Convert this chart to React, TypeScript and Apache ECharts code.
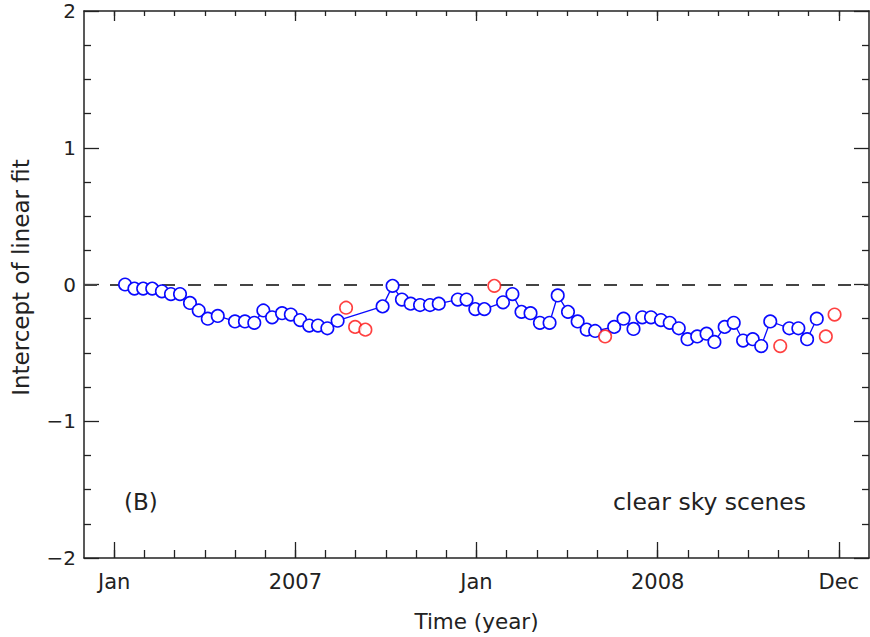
import React, { useEffect, useRef } from "react";
import * as echarts from "echarts";

// Time in months since Jan 2007 (0 = Jan, 12 = Jan next year, 24 = Dec)
const blueMonths = [0.36, 0.67, 0.96, 1.26, 1.58, 1.88, 2.18, 2.51, 2.80, 3.10, 3.43, 4.00, 4.33, 4.64, 4.94, 5.23, 5.56, 5.85, 6.16, 6.46, 6.75, 7.06, 7.40, 8.89, 9.22, 9.53, 9.82, 10.13, 10.46, 10.75, 11.38, 11.67, 11.96, 12.26, 12.88, 13.19, 13.49, 13.79, 14.10, 14.42, 14.69, 15.03, 15.35, 15.65, 15.93, 16.56, 16.87, 17.20, 17.49, 17.78, 18.11, 18.40, 18.70, 18.99, 19.31, 19.62, 19.88, 20.22, 20.52, 20.83, 21.15, 21.43, 21.73, 22.36, 22.66, 22.95, 23.27];
const blueValues = [0.00, -0.03, -0.03, -0.03, -0.05, -0.07, -0.07, -0.135, -0.19, -0.25, -0.23, -0.27, -0.27, -0.28, -0.19, -0.24, -0.21, -0.22, -0.26, -0.30, -0.30, -0.32, -0.265, -0.16, -0.01, -0.11, -0.14, -0.15, -0.15, -0.14, -0.11, -0.11, -0.18, -0.18, -0.13, -0.07, -0.20, -0.21, -0.28, -0.28, -0.08, -0.20, -0.27, -0.33, -0.34, -0.31, -0.25, -0.325, -0.24, -0.24, -0.26, -0.28, -0.32, -0.40, -0.38, -0.36, -0.42, -0.31, -0.28, -0.41, -0.40, -0.45, -0.27, -0.32, -0.32, -0.40, -0.25];

const redMonths = [7.68, 7.98, 8.32, 12.59, 16.26, 22.06, 23.57, 23.86];
const redValues = [-0.17, -0.31, -0.33, -0.01, -0.38, -0.45, -0.38, -0.22];

const xMin = -1;
const xMax = 25;
const xMajorValues = [0, 6, 12, 18, 24];
const xTickLabels = ["Jan", "2007", "Jan", "2008", "Dec"];
const xMinorValues = Array.from({ length: 25 }, (_, i) => i);

const yValues = [-2, -1, 0, 1, 2];
const yTickLabels = ["\u22122", "\u22121", "0", "1", "2"];

const FONT = "DejaVu Sans";
const TXT = "#222";
const AX = "#222";

export default function App() {
  const ref = useRef<HTMLDivElement>(null);
  useEffect(() => {
    if (!ref.current) return;
    const chart = echarts.init(ref.current, null, { renderer: "svg" });
    const axLine = { show: true, onZero: false, lineStyle: { color: AX, width: 1.5 } };
    const noLine = { show: false, onZero: false };
    const tickStyle = { color: AX, width: 1.3 };
    const baseX = { type: "value", min: xMin, max: xMax, splitLine: { show: false }, gridIndex: 0 };
    const baseY = { type: "value", min: -2, max: 2, interval: 1, splitLine: { show: false } };
    chart.setOption({
      animation: false,
      backgroundColor: "#fff",
      grid: { left: 84, right: 1, top: 11, bottom: 79, containLabel: false },
      xAxis: [
        {
          ...baseX,
          position: "bottom",
          axisLine: axLine,
          axisTick: { show: true, inside: true, length: 8, customValues: xMinorValues, lineStyle: tickStyle },
          axisLabel: {
            show: true,
            customValues: xMajorValues,
            formatter: (v: number) => xTickLabels[xMajorValues.indexOf(v)] ?? "",
            margin: 13,
            fontFamily: FONT,
            fontSize: 21,
            color: TXT,
          },
          name: "Time (year)",
          nameLocation: "middle",
          nameGap: 52,
          nameTextStyle: { fontFamily: FONT, fontSize: 21.5, color: TXT },
        },
        {
          ...baseX,
          position: "bottom",
          axisLine: noLine,
          axisTick: { show: true, inside: true, length: 16, customValues: xMajorValues, lineStyle: tickStyle },
          axisLabel: { show: false },
        },
        {
          ...baseX,
          position: "top",
          axisLine: axLine,
          axisTick: { show: true, inside: true, length: 5, customValues: xMinorValues, lineStyle: tickStyle },
          axisLabel: { show: false },
        },
        {
          ...baseX,
          position: "top",
          axisLine: noLine,
          axisTick: { show: true, inside: true, length: 10, customValues: xMajorValues, lineStyle: tickStyle },
          axisLabel: { show: false },
        },
      ],
      yAxis: [
        {
          ...baseY,
          position: "left",
          axisLine: axLine,
          axisTick: { show: true, inside: true, length: 15, lineStyle: tickStyle },
          minorTick: { show: true, splitNumber: 4, length: 7, lineStyle: tickStyle },
          axisLabel: {
            show: true,
            formatter: (v: number) => yTickLabels[yValues.indexOf(v)] ?? "",
            margin: 8,
            fontFamily: FONT,
            fontSize: 20,
            color: TXT,
          },
          name: "Intercept of linear fit",
          nameLocation: "middle",
          nameGap: 52,
          nameRotate: 90,
          nameTextStyle: { fontFamily: FONT, fontSize: 23, color: TXT, padding: [0, 0, 0, 14] },
        },
        {
          ...baseY,
          position: "right",
          axisLine: axLine,
          axisTick: { show: true, inside: true, length: 15, lineStyle: tickStyle },
          minorTick: { show: true, splitNumber: 4, length: 7, lineStyle: tickStyle },
          axisLabel: { show: false },
        },
      ],
      series: [
        {
          type: "line",
          xAxisIndex: 0,
          yAxisIndex: 0,
          data: blueMonths.map((m, i) => [m, blueValues[i]]),
          symbol: "circle",
          symbolSize: 12.5,
          showAllSymbol: true,
          lineStyle: { color: "#0a0aff", width: 1.3 },
          itemStyle: { color: "#fff", borderColor: "#0a0aff", borderWidth: 1.6 },
          z: 3,
          markLine: {
            silent: true,
            symbol: ["none", "none"],
            label: { show: false },
            lineStyle: { type: [13, 13], color: "#444", width: 2 },
            data: [{ yAxis: 0 }],
            z: 1,
          },
        },
        {
          type: "scatter",
          xAxisIndex: 0,
          yAxisIndex: 0,
          data: redMonths.map((m, i) => [m, redValues[i]]),
          symbol: "circle",
          symbolSize: 12.5,
          itemStyle: { color: "#fff", borderColor: "#ff1010", borderWidth: 1.6 },
          z: 4,
        },
      ],
      graphic: [
        {
          type: "text",
          left: 124,
          top: 490,
          style: { text: "(B)", font: `23px '${FONT}'`, fill: TXT },
        },
        {
          type: "text",
          right: 64,
          top: 490,
          style: { text: "clear sky scenes", font: `23.5px '${FONT}'`, fill: TXT },
        },
      ],
    });
    return () => chart.dispose();
  }, []);
  return <div ref={ref} style={{ width: 870, height: 637, position: "absolute", left: 0, top: 0 }} />;
}
